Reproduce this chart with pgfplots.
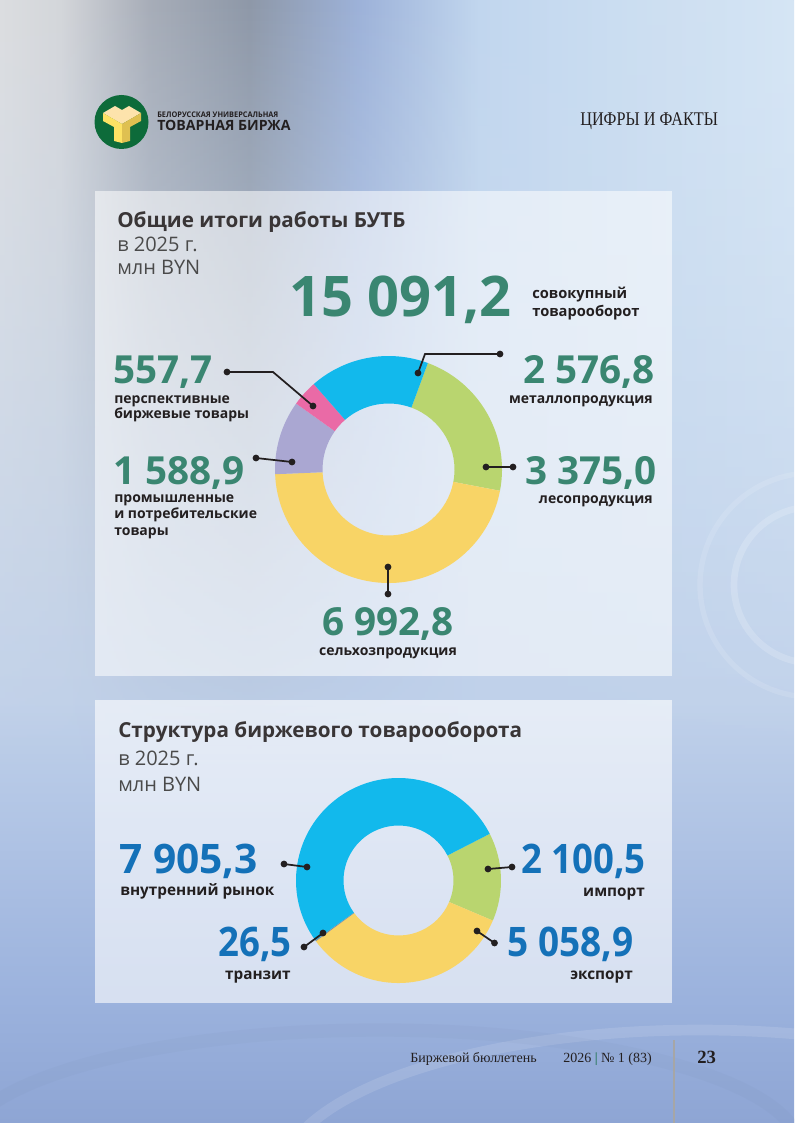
\documentclass[border=0pt]{standalone}
\usepackage{pgfplots}
\pgfplotsset{compat=1.18}
\usepackage{fontspec}
\usepackage{graphicx}
\setmainfont{Open Sans}
\newfontfamily\slab{Liberation Serif}
\usetikzlibrary{fadings}

\definecolor{cgreen}{HTML}{B9D56F}
\definecolor{cyellow}{HTML}{F8D466}
\definecolor{clav}{HTML}{AAA7D2}
\definecolor{cpink}{HTML}{EA6AA6}
\definecolor{cblue}{HTML}{12B9EC}
\definecolor{cgray}{HTML}{8A8F99}
\definecolor{teal}{HTML}{3A8671}
\definecolor{numblue}{HTML}{1471B8}
\definecolor{ink}{HTML}{231F20}
\definecolor{soft}{HTML}{4A4A4A}
\definecolor{logogreen}{HTML}{0D6B3A}

\definecolor{b0}{HTML}{DCDDE0}
\definecolor{b1}{HTML}{D4D6DA}
\definecolor{b2}{HTML}{A7ADB8}
\definecolor{b3}{HTML}{8E98A8}
\definecolor{b4}{HTML}{9DB2D9}
\definecolor{b5}{HTML}{C1D6EE}
\definecolor{b6}{HTML}{D6E6F5}
\pgfdeclarehorizontalshading{topband}{100bp}{
  color(0bp)=(b0); color(25bp)=(b0); color(28.8bp)=(b1); color(34.4bp)=(b2);
  color(40.7bp)=(b3); color(47.7bp)=(b4); color(55.2bp)=(b5); color(75bp)=(b6);
  color(100bp)=(b6)}

\definecolor{v0}{HTML}{8EA5D4}
\definecolor{v1}{HTML}{9BB2DD}
\definecolor{v2}{HTML}{C0D1EA}
\definecolor{v3}{HTML}{D0DFF1}
\pgfdeclareverticalshading{pagebg}{100bp}{
  color(0bp)=(v0); color(25bp)=(v0); color(30.5bp)=(v1); color(43.8bp)=(v2);
  color(75bp)=(v3); color(100bp)=(v3)}

\newcommand\fs[2]{\fontsize{#1}{#2}\selectfont}

\begin{document}
\begin{tikzpicture}
\useasboundingbox (0,0) rectangle (595.5pt,-842.25pt);

% ---- page background
\begin{scope}[x=0.75pt,y=-0.75pt]
  \shade[shading=pagebg] (0,0) rectangle (794,1123);
  \shade[shading=topband, path fading=south] (0,0) rectangle (794,760);
  \draw[white, opacity=0.18, line width=5] (812,585) circle (78);
  \draw[white, opacity=0.12, line width=4] (812,585) circle (112);
  \draw[white, opacity=0.12, line width=8] (700,1180) ellipse (420 and 150);
  \draw[v0!80!black, opacity=0.07, line width=10] (380,1150) ellipse (420 and 120);

  % panels
  \fill[white, opacity=0.55] (95,191) rectangle (672,676);
  \fill[white, opacity=0.6] (95,700) rectangle (672,1003);

  % logo
  \fill[logogreen] (121.5,122) circle (27);
  \fill[yellow!35!orange!30!white] (103,113) -- (115,106) -- (122,110) -- (129,106) -- (141,113) -- (122,124) -- cycle;
  \fill[yellow!70!orange!60!white] (103,113) -- (122,124) -- (122,143) -- (114,141) -- (114,127) -- (103,121) -- cycle;
  \fill[yellow!60!orange!70!gray!90] (141,113) -- (122,124) -- (122,143) -- (130,141) -- (130,127) -- (141,121) -- cycle;
  \node[anchor=base west, inner sep=0, font=\bfseries\fs{5.8}{6}, text=ink] at (157,118)
    {\scalebox{0.95}[1]{БЕЛОРУССКАЯ УНИВЕРСАЛЬНАЯ}};
  \node[anchor=base west, inner sep=0, font=\bfseries\fs{10.6}{11}, text=ink] at (157,131)
    {ТОВАРНАЯ БИРЖА};
  \node[anchor=base west, inner sep=0, font=\slab\fs{14.5}{15}, text=ink] at (580,126)
    {\scalebox{0.84}[1]{ЦИФРЫ И ФАКТЫ}};

  % footer
  \node[anchor=base west, inner sep=0, font=\slab\fs{10.5}{12}, text=ink] at (410,1062) {Биржевой бюллетень};
  \node[anchor=base west, inner sep=0, font=\slab\fs{10.5}{12}, text=ink] at (563,1062)
    {2026 \textcolor{logogreen}{|} № 1 (83)};
  \draw[gray!70, line width=1.5] (674,1040) -- (674,1123);
  \node[anchor=base west, inner sep=0, font=\slab\bfseries\fs{14}{15}, text=ink] at (697,1063) {23};
\end{scope}

% ---- donut 1: общие итоги (млн BYN)
\begin{axis}[hide axis, x=0.75pt, y=0.75pt, xmin=-130, xmax=130, ymin=-130, ymax=130,
  anchor=center, at={(291.375pt,-352.125pt)}]
  \foreach \v/\c [remember=\e as \s (initially 69.7)] in
    {3375.0/cgreen, 6992.8/cyellow, 1588.9/clav, 557.7/cpink, 2576.8/cblue} {
    \pgfmathsetmacro\e{\s-\v/15091.2*360}
    \edef\temp{\noexpand\fill[\c] (axis cs:{113.5*cos(\s)},{113.5*sin(\s)})
      arc[start angle=\s, end angle=\e, radius=85.125pt]
      -- (axis cs:{66*cos(\e)},{66*sin(\e)})
      arc[start angle=\e, end angle=\s, radius=49.5pt] -- cycle;}
    \temp
  }
\end{axis}

% ---- donut 2: структура товарооборота (млн BYN)
\begin{axis}[hide axis, x=0.75pt, y=0.75pt, xmin=-130, xmax=130, ymin=-130, ymax=130,
  anchor=center, at={(298.875pt,-660.375pt)}]
  \foreach \v/\c [remember=\e as \s (initially 27.1)] in
    {2100.5/cgreen, 5058.9/cyellow, 26.5/cgray, 7905.3/cblue} {
    \pgfmathsetmacro\e{\s-\v/15091.2*360}
    \edef\temp{\noexpand\fill[\c] (axis cs:{102.5*cos(\s)},{102.5*sin(\s)})
      arc[start angle=\s, end angle=\e, radius=76.875pt]
      -- (axis cs:{55*cos(\e)},{55*sin(\e)})
      arc[start angle=\e, end angle=\s, radius=41.25pt] -- cycle;}
    \temp
  }
\end{axis}

% ---- labels and leaders
\begin{scope}[x=0.75pt,y=-0.75pt]
  \tikzset{lead/.style={ink, line width=1.3}, dot/.style={fill=ink}}
  % titles
  \node[anchor=base west, inner sep=0, font=\bfseries\fs{15.5}{17}, text=ink!90] at (117,228) {Общие итоги работы БУТБ};
  \node[anchor=base west, inner sep=0, font=\fs{15}{17}, text=soft] at (117,251) {в 2025 г.};
  \node[anchor=base west, inner sep=0, font=\fs{15}{17}, text=soft] at (117,274) {млн BYN};
  \node[anchor=base west, inner sep=0, font=\bfseries\fs{15.5}{17}, text=ink!90] at (118,737) {Структура биржевого товарооборота};
  \node[anchor=base west, inner sep=0, font=\fs{15}{17}, text=soft] at (118,765) {в 2025 г.};
  \node[anchor=base west, inner sep=0, font=\fs{15}{17}, text=soft] at (118,791) {млн BYN};

  % total
  \node[anchor=base west, inner sep=0, font=\bfseries\fs{42}{44}, text=teal] at (289,316) {15 091,2};
  \node[anchor=base west, inner sep=0, font=\bfseries\fs{11}{13}, text=ink] at (532,298) {совокупный};
  \node[anchor=base west, inner sep=0, font=\bfseries\fs{11}{13}, text=ink] at (532,316) {товарооборот};

  % donut 1 labels
  \node[anchor=base west, inner sep=0, font=\bfseries\fs{29}{30}, text=teal] at (113,383) {557,7};
  \node[anchor=base west, inner sep=0, font=\bfseries\fs{10.5}{12}, text=ink] at (114,403) {перспективные};
  \node[anchor=base west, inner sep=0, font=\bfseries\fs{10.5}{12}, text=ink] at (114,418) {биржевые товары};

  \node[anchor=base east, inner sep=0, font=\bfseries\fs{29}{30}, text=teal] at (655,383) {2 576,8};
  \node[anchor=base east, inner sep=0, font=\bfseries\fs{10.5}{12}, text=ink] at (653,403) {металлопродукция};

  \node[anchor=base west, inner sep=0, font=\bfseries\fs{29}{30}, text=teal] at (113,484) {1 588,9};
  \node[anchor=base west, inner sep=0, font=\bfseries\fs{10.5}{12}, text=ink] at (114,502) {промышленные};
  \node[anchor=base west, inner sep=0, font=\bfseries\fs{10.5}{12}, text=ink] at (114,518.5) {и потребительские};
  \node[anchor=base west, inner sep=0, font=\bfseries\fs{10.5}{12}, text=ink] at (114,535) {товары};

  \node[anchor=base east, inner sep=0, font=\bfseries\fs{29}{30}, text=teal] at (657,484) {3 375,0};
  \node[anchor=base east, inner sep=0, font=\bfseries\fs{10.5}{12}, text=ink] at (653,503) {лесопродукция};

  \node[anchor=base, inner sep=0, font=\bfseries\fs{29}{30}, text=teal] at (388,635) {6 992,8};
  \node[anchor=base, inner sep=0, font=\bfseries\fs{10.5}{12}, text=ink] at (388,655) {сельхозпродукция};

  \draw[lead] (227,372) -- (273,372) -- (313,406);
  \fill[dot] (227,372) circle (3.4); \fill[dot] (313,406) circle (3.4);
  \draw[lead] (418,373) -- (425,354) -- (500,354);
  \fill[dot] (418,373) circle (3.4); \fill[dot] (500,354) circle (3.4);
  \draw[lead] (486,467) -- (513,467);
  \fill[dot] (486,467) circle (3.4); \fill[dot] (513,467) circle (3.4);
  \draw[lead] (256,458) -- (292,462);
  \fill[dot] (256,458) circle (3.4); \fill[dot] (292,462) circle (3.4);
  \draw[lead] (388,567) -- (388,594);
  \fill[dot] (388,567) circle (3.4); \fill[dot] (388,594) circle (3.4);

  % donut 2 labels
  \node[anchor=base west, inner sep=0, font=\bfseries\fs{30.5}{31}, text=numblue] at (119,873) {7 905,3};
  \node[anchor=base west, inner sep=0, font=\bfseries\fs{11.5}{13}, text=ink] at (120,895) {внутренний рынок};
  \node[anchor=base east, inner sep=0, font=\bfseries\fs{30.5}{31}, text=numblue] at (646,873) {\scalebox{0.9}[1]{2 100,5}};
  \node[anchor=base east, inner sep=0, font=\bfseries\fs{11.5}{13}, text=ink] at (645,896) {импорт};
  \node[anchor=base east, inner sep=0, font=\bfseries\fs{30.5}{31}, text=numblue] at (292,956) {\scalebox{0.9}[1]{26,5}};
  \node[anchor=base east, inner sep=0, font=\bfseries\fs{11.5}{13}, text=ink] at (291,979) {транзит};
  \node[anchor=base east, inner sep=0, font=\bfseries\fs{30.5}{31}, text=numblue] at (634,956) {\scalebox{0.91}[1]{5 058,9}};
  \node[anchor=base east, inner sep=0, font=\bfseries\fs{11.5}{13}, text=ink] at (633,979) {экспорт};

  \draw[lead] (284,864) -- (307,867);
  \fill[dot] (284,864) circle (3.4); \fill[dot] (307,867) circle (3.4);
  \draw[lead] (488,869) -- (512,867);
  \fill[dot] (488,869) circle (3.4); \fill[dot] (512,867) circle (3.4);
  \draw[lead] (304,947) -- (323,933);
  \fill[dot] (304,947) circle (3.4); \fill[dot] (323,933) circle (3.4);
  \draw[lead] (477,931) -- (494.5,943);
  \fill[dot] (477,931) circle (3.4); \fill[dot] (494.5,943) circle (3.4);
\end{scope}
\end{tikzpicture}
\end{document}
